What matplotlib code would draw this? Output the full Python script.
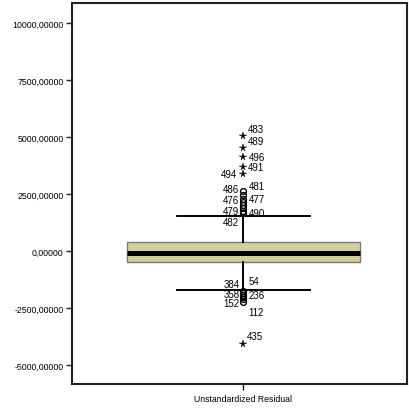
import numpy as np
import matplotlib
matplotlib.use('Agg')
import matplotlib.pyplot as plt
from matplotlib.ticker import FuncFormatter

plt.rcParams['font.family'] = ['Liberation Sans', 'DejaVu Sans']

# box summary for the unstandardized residual
q1 = -469.0
median = -66.0
q3 = 381.0
whisker_low = -1697.0
whisker_high = 1548.0

# outliers (circles) and extremes (stars) with case labels
circle_vals = [2632, 2456, 2281, 2149, 2018, 1886, 1754, 1667, 1667,
               -1754, -1842, -1930, -2018, -2105, -2237]
circle_labels = ['481', '486', '477', '476', '', '', '479', '490', '482',
                 '384', '54', '358', '236', '112', '152']
star_vals = [5057, 4503, 4108, 3699, 3377, -4079]
star_labels = ['483', '489', '496', '491', '494', '435']

y_ticks = [-5000, -2500, 0, 2500, 5000, 7500, 10000]
x_label = 'Unstandardized Residual'

# label offsets in pixels (dx, dy)
circle_offsets = [(5, 5), (-4, 6), (5, 0), (-4, 2), None, None, (-4, 0), (5, 0), (-4, -9),
                  (-4, 7), (5, 12), (-4, 1), (5, 2), (5, -13), (-4, -1)]
star_offsets = [(4, 7), (4, 7), (5, 0), (4, 0), (-6, 0), (3, 8)]

fig = plt.figure(figsize=(4.1, 4.1), dpi=100)
ax = fig.add_axes([0.1756, 0.061, 0.817, 0.929])

stats = [dict(med=median, q1=q1, q3=q3, whislo=whisker_low, whishi=whisker_high,
              fliers=[], label=x_label)]
ax.bxp(stats, positions=[1], widths=0.68, capwidths=0.389, patch_artist=True,
       showfliers=False,
       boxprops=dict(facecolor='#d4cf9b', edgecolor='#7a7a7a', linewidth=1.0),
       medianprops=dict(color='black', linewidth=3.6, solid_capstyle='butt'),
       whiskerprops=dict(color='black', linewidth=1.4),
       capprops=dict(color='black', linewidth=1.4))

ax.plot([1] * len(circle_vals), circle_vals, 'o', mfc='none', mec='black',
        ms=4.2, mew=1.0, zorder=4)
ax.plot([1] * len(star_vals), star_vals, '*', color='black', ms=5.3, mew=0.3, zorder=4)

for v, lab, off in zip(circle_vals + star_vals, circle_labels + star_labels,
                       circle_offsets + star_offsets):
    if not lab:
        continue
    dx, dy = off
    ax.annotate(lab, (1, v), xytext=(dx, dy), textcoords='offset pixels',
                ha='left' if dx > 0 else 'right', va='center', fontsize=7, zorder=5)

ax.set_xlim(0.5, 1.477)
ax.set_ylim(-5830, 10880)
ax.set_yticks(y_ticks)
ax.yaxis.set_major_formatter(FuncFormatter(lambda v, p: ('%.5f' % v).replace('.', ',')))
ax.set_xticks([1])
ax.set_xticklabels([x_label])
ax.tick_params(axis='both', labelsize=6.3, length=4, width=1.0, color='#222222', pad=2)
ax.tick_params(axis='x', pad=3.5)

for s in ax.spines.values():
    s.set_linewidth(1.5)
    s.set_color('#222222')

fig.savefig('out.png', dpi=100)
